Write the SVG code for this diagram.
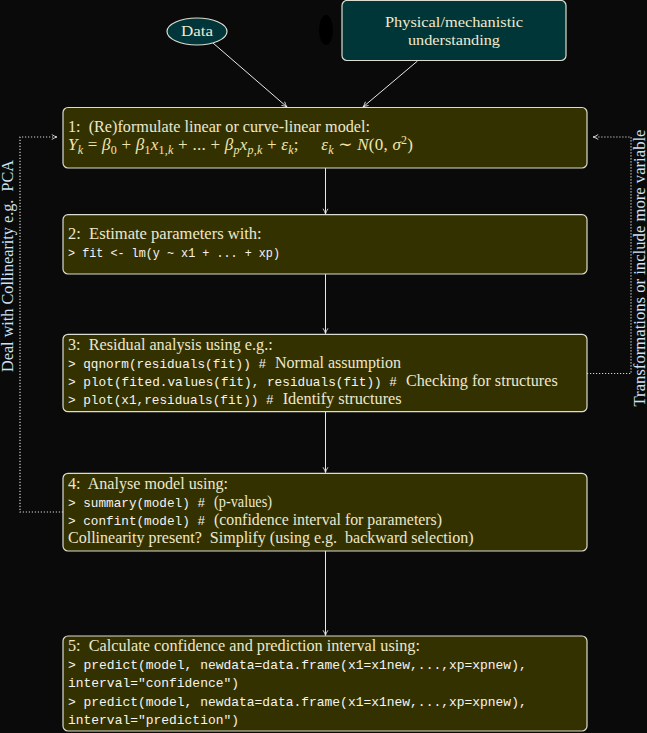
<svg xmlns="http://www.w3.org/2000/svg" width="647" height="733" viewBox="0 0 647 733">
<defs>
<style>
.box{fill:#343100;stroke:#dcdcd0;stroke-width:1.2}
.t{font-family:"Liberation Serif","Times New Roman",serif;font-size:16px;fill:#ece8cf}
.c{font-family:"Liberation Mono","Courier New",monospace;font-size:13.5px;fill:#f4f4f4}
.m{font-family:"Liberation Serif","DejaVu Serif",serif;font-size:17px;fill:#f1e6ae}
.i{font-style:italic}
.s{font-size:12px}
.top{font-family:"Liberation Serif","Times New Roman",serif;font-size:15.5px;fill:#f1ead0}
.lab{font-family:"Liberation Serif","Times New Roman",serif;font-size:16px;fill:#cfe2f5}
.conn{stroke:#e8e8e8;stroke-width:1;fill:none}
.dot{stroke:#d4d4d4;stroke-width:1.2;fill:none;stroke-dasharray:1.2 1.8}
</style>
<marker id="ah" viewBox="0 0 10 10" refX="9" refY="5" markerWidth="7" markerHeight="7" markerUnits="userSpaceOnUse" orient="auto">
<path d="M1.5,1.5 Q6,4.3 9,5 Q6,5.7 1.5,8.5" fill="none" stroke="#e8e8e8" stroke-width="1.2"/>
</marker>
</defs>
<rect width="647" height="733" fill="#0a0a0a"/>
<ellipse cx="326" cy="30" rx="7" ry="15" fill="#000"/>

<g id="connectors">
<line class="conn" x1="213" y1="43" x2="287" y2="107" marker-end="url(#ah)"/>
<line class="conn" x1="417.5" y1="61" x2="363" y2="107" marker-end="url(#ah)"/>
<line class="conn" x1="325.5" y1="168" x2="325.5" y2="214" marker-end="url(#ah)"/>
<line class="conn" x1="325.5" y1="274" x2="325.5" y2="333.5" marker-end="url(#ah)"/>
<line class="conn" x1="325.5" y1="412" x2="325.5" y2="472.5" marker-end="url(#ah)"/>
<line class="conn" x1="325.5" y1="551" x2="325.5" y2="635.5" marker-end="url(#ah)"/>
<polyline class="dot" points="63,512 20,512 20,137 57,137" marker-end="url(#ah)"/>
<polyline class="dot" points="587,373.5 631,373.5 631,137 593,137" marker-end="url(#ah)"/>
<text class="lab" transform="translate(12.5,266) rotate(-90)" text-anchor="middle" textLength="212" lengthAdjust="spacingAndGlyphs">Deal with Collinearity e.g.&#160; PCA</text>
<text class="lab" transform="translate(645,268) rotate(-90)" text-anchor="middle" textLength="277" lengthAdjust="spacingAndGlyphs">Transformations or include more variable</text>
</g>

<g id="data">
<ellipse cx="197" cy="31.5" rx="30" ry="13.5" fill="#00353a" stroke="#dcdcd0" stroke-width="1.2"/>
<text class="top" x="197" y="36" text-anchor="middle" textLength="32" lengthAdjust="spacingAndGlyphs">Data</text>
</g>

<g id="physical">
<rect x="342" y="0.5" width="224" height="60" rx="5" fill="#003637" stroke="#dcdcd0" stroke-width="1.2"/>
<text class="top" x="454" y="26.5" text-anchor="middle" textLength="138" lengthAdjust="spacingAndGlyphs">Physical/mechanistic</text>
<text class="top" x="454" y="44.5" text-anchor="middle" textLength="92" lengthAdjust="spacingAndGlyphs">understanding</text>
</g>

<g id="step1">
<rect class="box" x="63" y="107.5" width="524" height="60.5" rx="5"/>
<text class="t" x="68" y="131.7" textLength="302" lengthAdjust="spacingAndGlyphs">1:&#160; (Re)formulate linear or curve-linear model:</text>
<text class="m" x="68" y="150" textLength="345" lengthAdjust="spacing"><tspan class="i">Y</tspan><tspan class="s i" dy="3.5">k</tspan><tspan dy="-3.5"> = </tspan><tspan class="i">β</tspan><tspan class="s" dy="3.5">0</tspan><tspan dy="-3.5"> + </tspan><tspan class="i">β</tspan><tspan class="s" dy="3.5">1</tspan><tspan class="i" dy="-3.5">x</tspan><tspan class="s" dy="3.5">1,<tspan class="i">k</tspan></tspan><tspan dy="-3.5"> + ... + </tspan><tspan class="i">β</tspan><tspan class="s i" dy="3.5">p</tspan><tspan class="i" dy="-3.5">x</tspan><tspan class="s" dy="3.5"><tspan class="i">p</tspan>,<tspan class="i">k</tspan></tspan><tspan dy="-3.5"> + </tspan><tspan class="i">ε</tspan><tspan class="s i" dy="3.5">k</tspan><tspan dy="-3.5">;&#160;&#160;&#160;&#160; </tspan><tspan class="i">ε</tspan><tspan class="s i" dy="3.5">k</tspan><tspan dy="-3.5"> ∼ </tspan><tspan class="i">N</tspan><tspan>(0, </tspan><tspan class="i">σ</tspan><tspan class="s" dy="-6">2</tspan><tspan dy="6">)</tspan></text>
</g>

<g id="step2">
<rect class="box" x="63" y="214.7" width="524" height="59.3" rx="5"/>
<text class="t" x="68" y="239.3" textLength="193.7" lengthAdjust="spacingAndGlyphs">2:&#160; Estimate parameters with:</text>
<text class="c" x="68" y="256.7" textLength="212" lengthAdjust="spacingAndGlyphs">&gt; fit &lt;- lm(y ~ x1 + ... + xp)</text>
</g>

<g id="step3">
<rect class="box" x="63" y="334.3" width="524" height="77.4" rx="5"/>
<text class="t" x="68" y="349.7" textLength="204.7" lengthAdjust="spacingAndGlyphs">3:&#160; Residual analysis using e.g.:</text>
<text class="c" x="68" y="367.5" textLength="198" lengthAdjust="spacingAndGlyphs">&gt; qqnorm(residuals(fit)) #</text>
<text class="t" x="275" y="367.5" textLength="126" lengthAdjust="spacingAndGlyphs">Normal assumption</text>
<text class="c" x="68" y="385.5" textLength="329" lengthAdjust="spacingAndGlyphs">&gt; plot(fited.values(fit), residuals(fit)) #</text>
<text class="t" x="406" y="385.5" textLength="151.7" lengthAdjust="spacingAndGlyphs">Checking for structures</text>
<text class="c" x="68" y="403.5" textLength="205.7" lengthAdjust="spacingAndGlyphs">&gt; plot(x1,residuals(fit)) #</text>
<text class="t" x="282.7" y="403.5" textLength="119" lengthAdjust="spacingAndGlyphs">Identify structures</text>
</g>

<g id="step4">
<rect class="box" x="63" y="473.3" width="524" height="77.7" rx="5"/>
<text class="t" x="68" y="489" textLength="160" lengthAdjust="spacingAndGlyphs">4:&#160; Analyse model using:</text>
<text class="c" x="68" y="507" textLength="137" lengthAdjust="spacingAndGlyphs">&gt; summary(model) #</text>
<text class="t" x="214" y="507" textLength="58" lengthAdjust="spacingAndGlyphs">(p-values)</text>
<text class="c" x="68" y="525" textLength="137" lengthAdjust="spacingAndGlyphs">&gt; confint(model) #</text>
<text class="t" x="214" y="525" textLength="228" lengthAdjust="spacingAndGlyphs">(confidence interval for parameters)</text>
<text class="t" x="68" y="543" textLength="405.5" lengthAdjust="spacingAndGlyphs">Collinearity present?&#160; Simplify (using e.g.&#160; backward selection)</text>
</g>

<g id="step5">
<rect class="box" x="63" y="636" width="524" height="95" rx="5"/>
<text class="t" x="68" y="650.5" textLength="352" lengthAdjust="spacingAndGlyphs">5:&#160; Calculate confidence and prediction interval using:</text>
<text class="c" x="68" y="668.8" textLength="458.7" lengthAdjust="spacingAndGlyphs">&gt; predict(model, newdata=data.frame(x1=x1new,...,xp=xpnew),</text>
<text class="c" x="68" y="687.2" textLength="171" lengthAdjust="spacingAndGlyphs">interval="confidence")</text>
<text class="c" x="68" y="705.6" textLength="458.7" lengthAdjust="spacingAndGlyphs">&gt; predict(model, newdata=data.frame(x1=x1new,...,xp=xpnew),</text>
<text class="c" x="68" y="724" textLength="171" lengthAdjust="spacingAndGlyphs">interval="prediction")</text>
</g>
</svg>
